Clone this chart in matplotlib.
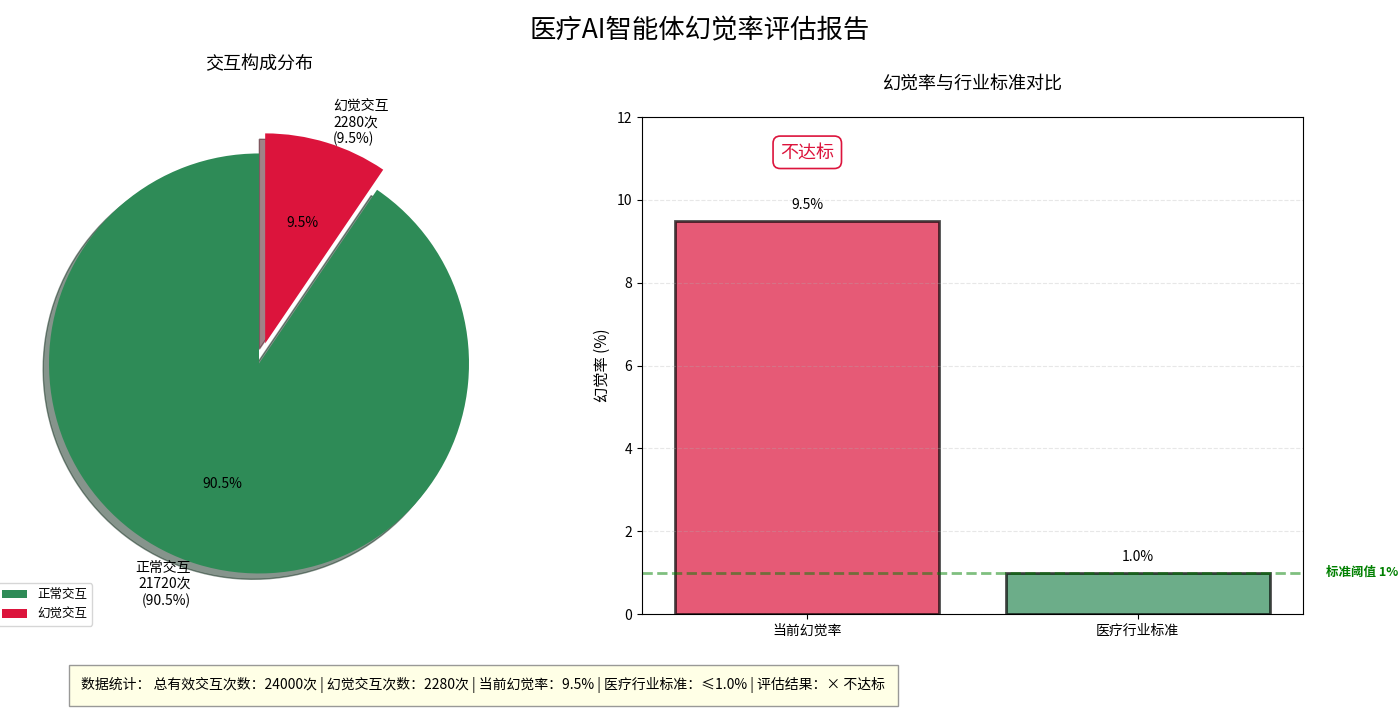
import matplotlib
matplotlib.use("Agg")
import matplotlib.pyplot as plt

plt.rcParams['font.family'] = ['Noto Sans CJK SC', 'DejaVu Sans']
plt.rcParams['axes.unicode_minus'] = False

pie_labels = ['正常交互', '幻觉交互']
pie_counts = [21720, 2280]
pie_pcts = [90.5, 9.5]
pie_colors = ['#2E8B57', '#DC143C']

bar_cats = ['当前幻觉率', '医疗行业标准']
bar_vals = [9.5, 1.0]
bar_colors = ['#DC143C', '#2E8B57']
threshold = 1.0

fig = plt.figure(figsize=(14, 7.14), dpi=100)
fig.suptitle('医疗AI智能体幻觉率评估报告', fontsize=19, y=0.975)

ax1 = fig.add_axes([0.02, 0.13, 0.33, 0.75])
lbls = [f'{l}\n{c}次\n({p}%)' for l, c, p in zip(pie_labels, pie_counts, pie_pcts)]
wedges, texts, autotexts = ax1.pie(pie_counts, labels=lbls, colors=pie_colors, explode=(0, 0.1),
                                    autopct='%1.1f%%', shadow=True, startangle=90,
                                    textprops={'fontsize': 10})
ax1.set_title('交互构成分布', fontsize=13, pad=12)
ax1.legend(wedges, pie_labels, loc='lower left', bbox_to_anchor=(-0.08, -0.02), fontsize=9)
ax1.axis('equal')

ax2 = fig.add_axes([0.4586, 0.14, 0.4721, 0.696])
bars = ax2.bar(bar_cats, bar_vals, color=bar_colors, alpha=0.7, edgecolor='black', linewidth=2)
for b, v in zip(bars, bar_vals):
    ax2.text(b.get_x() + b.get_width() / 2, v + 0.2, f'{v:.1f}%', ha='center', va='bottom', fontsize=10)
ax2.axhline(threshold, color='green', linestyle='--', linewidth=2, alpha=0.5)
ax2.text(1.57, threshold, f'标准阈值 {threshold:.0f}%', color='green', fontsize=9,
         fontweight='bold', va='center', ha='left')
ax2.set_ylim(0, 12)
ax2.set_xlim(-0.5, 1.5)
ax2.set_ylabel('幻觉率 (%)', fontsize=11)
ax2.set_title('幻觉率与行业标准对比', fontsize=13, pad=20)
ax2.grid(axis='y', linestyle='--', alpha=0.3)
ax2.text(0, 11.15, '不达标', fontsize=13, color='#DC143C', ha='center', va='center',
         bbox=dict(boxstyle='round,pad=0.4', facecolor='white', edgecolor='#DC143C', linewidth=1.2))

fig.text(0.058, 0.04, '数据统计： 总有效交互次数：24000次 | 幻觉交互次数：2280次 | 当前幻觉率：9.5% | 医疗行业标准：≤1.0% | 评估结果：× 不达标',
         fontsize=10, ha='left', va='center',
         bbox=dict(boxstyle='square,pad=0.9', facecolor='lightyellow', edgecolor='gray', alpha=0.8))

fig.savefig('out.png', dpi=100)
